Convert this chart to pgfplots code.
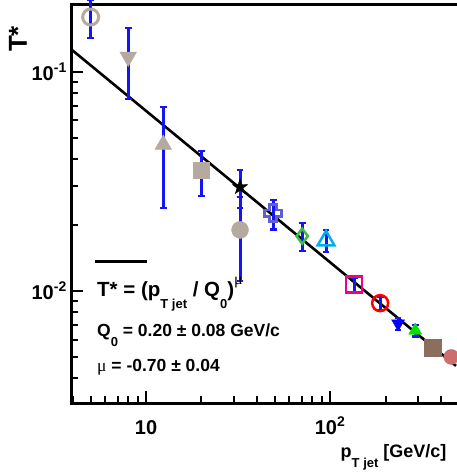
\documentclass[border=0pt]{standalone}
\usepackage{fontspec}
\setmainfont{Liberation Sans}
\newfontfamily\greekserif{Liberation Serif}
\usepackage{pgfplots}
\pgfplotsset{compat=1.18}

\definecolor{taupe}{RGB}{180,170,160}
\definecolor{barblue}{RGB}{20,20,245}
\definecolor{crossblue}{RGB}{95,95,210}
\definecolor{dgreen}{RGB}{60,190,60}
\definecolor{bgreen}{RGB}{0,225,0}
\definecolor{brownsq}{RGB}{140,110,95}
\definecolor{rosered}{RGB}{205,110,110}

% open cross (outlined plus sign)
\pgfdeclareplotmark{ocross}{%
  \pgfmathsetlengthmacro\crossarm{0.4*\pgfplotmarksize}%
  \pgfpathmoveto{\pgfpoint{-\crossarm}{\pgfplotmarksize}}%
  \pgfpathlineto{\pgfpoint{\crossarm}{\pgfplotmarksize}}%
  \pgfpathlineto{\pgfpoint{\crossarm}{\crossarm}}%
  \pgfpathlineto{\pgfpoint{\pgfplotmarksize}{\crossarm}}%
  \pgfpathlineto{\pgfpoint{\pgfplotmarksize}{-\crossarm}}%
  \pgfpathlineto{\pgfpoint{\crossarm}{-\crossarm}}%
  \pgfpathlineto{\pgfpoint{\crossarm}{-\pgfplotmarksize}}%
  \pgfpathlineto{\pgfpoint{-\crossarm}{-\pgfplotmarksize}}%
  \pgfpathlineto{\pgfpoint{-\crossarm}{-\crossarm}}%
  \pgfpathlineto{\pgfpoint{-\pgfplotmarksize}{-\crossarm}}%
  \pgfpathlineto{\pgfpoint{-\pgfplotmarksize}{\crossarm}}%
  \pgfpathlineto{\pgfpoint{-\crossarm}{\crossarm}}%
  \pgfpathclose\pgfusepathqstroke}

% filled five-pointed star
\pgfdeclareplotmark{fstar}{%
  \pgfpathmoveto{\pgfpointpolar{90}{\pgfplotmarksize}}%
  \pgfpathlineto{\pgfpointpolar{126}{0.4\pgfplotmarksize}}%
  \pgfpathlineto{\pgfpointpolar{162}{\pgfplotmarksize}}%
  \pgfpathlineto{\pgfpointpolar{198}{0.4\pgfplotmarksize}}%
  \pgfpathlineto{\pgfpointpolar{234}{\pgfplotmarksize}}%
  \pgfpathlineto{\pgfpointpolar{270}{0.4\pgfplotmarksize}}%
  \pgfpathlineto{\pgfpointpolar{306}{\pgfplotmarksize}}%
  \pgfpathlineto{\pgfpointpolar{342}{0.4\pgfplotmarksize}}%
  \pgfpathlineto{\pgfpointpolar{18}{\pgfplotmarksize}}%
  \pgfpathlineto{\pgfpointpolar{54}{0.4\pgfplotmarksize}}%
  \pgfpathclose\pgfusepathqfillstroke}

\newcommand\lowsub[1]{\raisebox{-0.55em}{\fontsize{13}{13}\selectfont #1}}

% T* measurements: pT jet, value, uncertainty
\pgfplotstableread{
x     y       e
5     0.178   0.035
8     0.117   0.042
12.4  0.0466  0.0227
20    0.0354  0.0082
32.4  0.0298  0.0058
32.4  0.0190  0.0079
49    0.0226  0.0035
70.5  0.0178  0.0026
95    0.0170  0.0020
135   0.0107  0.0008
187   0.0088  0.0006
234   0.0071  0.00045
290   0.0066  0.0004
363   0.0055  0.0003
455   0.0050  0.0003
}\tstar

\begin{document}
\begin{tikzpicture}
\begin{axis}[
  at={(0pt,0pt)}, anchor=south west,
  scale only axis, width=385pt, height=398pt,
  xmode=log, ymode=log,
  xmin=3.91, xmax=483, ymin=0.00308, ymax=0.202,
  axis x line*=box, axis y line*=left,
  xtick pos=left, ytick pos=left,
  axis line style={line width=3pt, line cap=rect},
  tick align=inside,
  major tick length=12pt, minor tick length=7pt,
  every tick/.style={black, line width=2pt},
  xtick={10,100}, xticklabels={10,10\textsuperscript{2}},
  ytick={0.01,0.1}, yticklabels={10\textsuperscript{-2},10\textsuperscript{-1}},
  minor xtick={4,5,6,7,8,9,20,30,40,50,60,70,80,90,200,300,400},
  minor ytick={0.004,0.005,0.006,0.007,0.008,0.009,0.02,0.03,0.04,0.05,0.06,0.07,0.08,0.09},
  ticklabel style={font=\fontsize{20}{24}\selectfont\bfseries},
  xticklabel style={anchor=base, inner sep=0pt, yshift=-31pt},
  yticklabel style={anchor=east, inner sep=0pt, xshift=-4pt},
  clip=false,
]
% measurements
\addplot[only marks, mark=o, mark size=8pt, taupe, line width=3pt] coordinates {(5,0.178)};
\addplot[only marks, mark=triangle*, mark size=9.6pt, taupe, mark options={rotate=180}] coordinates {(8,0.117)};
\addplot[only marks, mark=triangle*, mark size=9.6pt, taupe] coordinates {(12.4,0.0466)};
\addplot[only marks, mark=square*, mark size=8pt, taupe] coordinates {(20,0.0354)};
\addplot[only marks, mark=*, mark size=8.5pt, taupe] coordinates {(32.4,0.0190)};
\addplot[only marks, mark=ocross, mark size=8.5pt, crossblue, line width=2.8pt] coordinates {(49,0.0226)};
\addplot[only marks, mark=diamond, mark size=7.5pt, dgreen, line width=2.5pt] coordinates {(70.5,0.0178)};
\addplot[only marks, mark=triangle, mark size=9.6pt, cyan, line width=2.5pt] coordinates {(95,0.0170)};
\addplot[only marks, mark=square, mark size=8pt, magenta, line width=2.5pt] coordinates {(135,0.0107)};
\addplot[only marks, mark=o, mark size=8pt, red, line width=2.5pt] coordinates {(187,0.0088)};
\addplot[only marks, mark=triangle*, mark size=7.5pt, blue, mark options={rotate=180}] coordinates {(234,0.0071)};
\addplot[only marks, mark=triangle*, mark size=7.5pt, bgreen] coordinates {(290,0.0066)};
\addplot[only marks, mark=square*, mark size=8.5pt, brownsq] coordinates {(363,0.0055)};
\addplot[only marks, mark=*, mark size=7.5pt, rosered] coordinates {(455,0.0050)};
% power-law fit
\addplot[black, line width=2.6pt] coordinates {(3.91,0.127) (483,0.00455)};
\addplot[only marks, mark=fstar, mark size=8pt, black] coordinates {(32.4,0.0298)};
% uncertainties
\addplot[draw=none, mark=none,
  error bars/.cd, y dir=both, y explicit,
  error bar style={draw=barblue, line width=3pt},
  error mark options={rotate=90, draw=barblue, line width=2.2pt, mark size=3.4pt}]
  table[x=x, y=y, y error=e] {\tstar};
\end{axis}

% axis titles
\node[rotate=90, font=\fontsize{26}{30}\selectfont\bfseries] at (-53pt,364pt) {T*};
\node[anchor=base east, font=\fontsize{18}{22}\selectfont\bfseries] at (379pt,-55pt)
  {p\lowsub{T jet} [GeV/c]};

% fit result
\draw[line width=3pt] (24pt,141pt) -- (76pt,141pt);
\node[anchor=base west, inner sep=0pt, font=\fontsize{20.5}{24}\selectfont\bfseries] at (26pt,106pt)
  {T* = (p\lowsub{T jet} / Q\lowsub{0})\raisebox{0.6em}{\fontsize{16}{16}\selectfont\mdseries\greekserif μ}};
\node[anchor=base west, inner sep=0pt, font=\fontsize{17.5}{21}\selectfont\bfseries] at (26pt,66pt)
  {Q\lowsub{0} = 0.20 ± 0.08 GeV/c};
\node[anchor=base west, inner sep=0pt, font=\fontsize{17.5}{21}\selectfont\bfseries] at (26pt,31pt)
  {{\mdseries\greekserif μ} = -0.70 ± 0.04};

\pgfresetboundingbox
\path[use as bounding box] (-71pt,-70pt) rectangle (385pt,403pt);
\end{tikzpicture}
\end{document}
